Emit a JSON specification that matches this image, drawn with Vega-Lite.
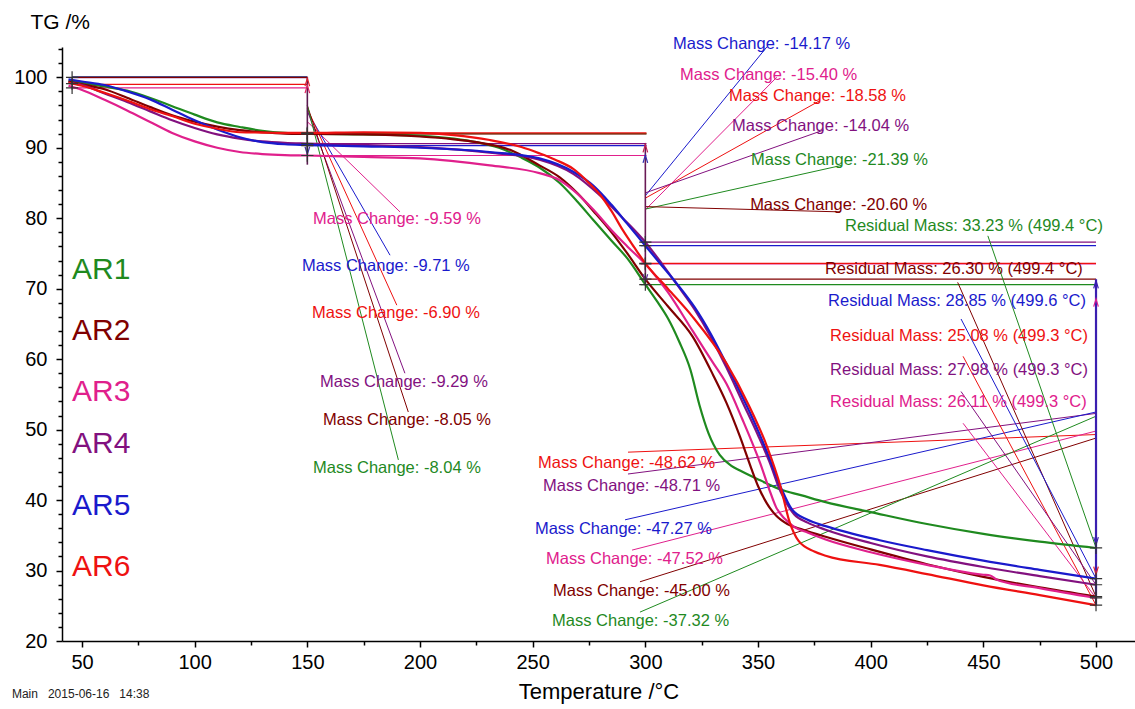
{
  "$schema": "https://vega.github.io/schema/vega-lite/v6.json",
  "width": 1073,
  "height": 594,
  "autosize": "none",
  "padding": {"left": 62, "top": 47, "right": 0, "bottom": 68},
  "background": "white",
  "config": {
    "view": {"stroke": null},
    "font": "Liberation Sans",
    "axis": {"domainColor": "black", "tickColor": "black", "labelColor": "black", "titleColor": "black", "grid": false, "labelFont": "Liberation Sans", "titleFont": "Liberation Sans", "domainWidth": 1.5, "tickWidth": 1.5}
  },
  "datasets": {
    "curves": [
      {"s":"AR1","x":44,"y":99.5},{"s":"AR1","x":50,"y":99.2},{"s":"AR1","x":60,"y":98.7},{"s":"AR1","x":70,"y":98.1},{"s":"AR1","x":80,"y":97.1},{"s":"AR1","x":90,"y":95.9},{"s":"AR1","x":100,"y":94.7},{"s":"AR1","x":110,"y":93.6},{"s":"AR1","x":120,"y":92.95},{"s":"AR1","x":130,"y":92.4},{"s":"AR1","x":140,"y":92.1},{"s":"AR1","x":150,"y":92.0},{"s":"AR1","x":175,"y":91.9},{"s":"AR1","x":200,"y":91.7},{"s":"AR1","x":215,"y":91.3},{"s":"AR1","x":225,"y":90.8},{"s":"AR1","x":235,"y":90.0},{"s":"AR1","x":245,"y":88.6},{"s":"AR1","x":253,"y":87.2},{"s":"AR1","x":262,"y":85.0},{"s":"AR1","x":270,"y":82.3},{"s":"AR1","x":277,"y":79.7},{"s":"AR1","x":285,"y":76.8},{"s":"AR1","x":292,"y":74.3},{"s":"AR1","x":300,"y":70.6},{"s":"AR1","x":305,"y":68.3},{"s":"AR1","x":310,"y":65.8},{"s":"AR1","x":315,"y":62.5},{"s":"AR1","x":320,"y":58.5},{"s":"AR1","x":324,"y":53.5},{"s":"AR1","x":328,"y":49.5},{"s":"AR1","x":333,"y":46.4},{"s":"AR1","x":338,"y":44.9},{"s":"AR1","x":342,"y":44.2},{"s":"AR1","x":351,"y":42.8},{"s":"AR1","x":360,"y":41.5},{"s":"AR1","x":369,"y":40.7},{"s":"AR1","x":380,"y":39.7},{"s":"AR1","x":400,"y":38.3},{"s":"AR1","x":425,"y":36.6},{"s":"AR1","x":450,"y":35.2},{"s":"AR1","x":475,"y":34.1},{"s":"AR1","x":500,"y":33.2},
      {"s":"AR2","x":44,"y":99.4},{"s":"AR2","x":50,"y":99.0},{"s":"AR2","x":60,"y":98.3},{"s":"AR2","x":70,"y":97.1},{"s":"AR2","x":80,"y":95.8},{"s":"AR2","x":90,"y":94.6},{"s":"AR2","x":100,"y":93.7},{"s":"AR2","x":110,"y":93.0},{"s":"AR2","x":120,"y":92.5},{"s":"AR2","x":130,"y":92.2},{"s":"AR2","x":140,"y":92.0},{"s":"AR2","x":150,"y":91.95},{"s":"AR2","x":175,"y":91.9},{"s":"AR2","x":200,"y":91.6},{"s":"AR2","x":215,"y":91.2},{"s":"AR2","x":225,"y":90.8},{"s":"AR2","x":240,"y":89.7},{"s":"AR2","x":253,"y":87.5},{"s":"AR2","x":262,"y":85.8},{"s":"AR2","x":270,"y":83.5},{"s":"AR2","x":277,"y":81.0},{"s":"AR2","x":285,"y":78.0},{"s":"AR2","x":292,"y":75.0},{"s":"AR2","x":300,"y":71.35},{"s":"AR2","x":310,"y":67.5},{"s":"AR2","x":321,"y":63.2},{"s":"AR2","x":330,"y":57.8},{"s":"AR2","x":336,"y":53.8},{"s":"AR2","x":342,"y":49.0},{"s":"AR2","x":347,"y":44.5},{"s":"AR2","x":350,"y":42.0},{"s":"AR2","x":354,"y":39.5},{"s":"AR2","x":358,"y":37.8},{"s":"AR2","x":363,"y":36.6},{"s":"AR2","x":370,"y":35.8},{"s":"AR2","x":380,"y":34.8},{"s":"AR2","x":400,"y":33.0},{"s":"AR2","x":425,"y":30.9},{"s":"AR2","x":450,"y":29.1},{"s":"AR2","x":475,"y":27.6},{"s":"AR2","x":500,"y":26.3},
      {"s":"AR3","x":44,"y":98.8},{"s":"AR3","x":50,"y":98.2},{"s":"AR3","x":60,"y":96.8},{"s":"AR3","x":70,"y":95.3},{"s":"AR3","x":80,"y":93.7},{"s":"AR3","x":90,"y":92.1},{"s":"AR3","x":100,"y":90.9},{"s":"AR3","x":110,"y":90.0},{"s":"AR3","x":120,"y":89.4},{"s":"AR3","x":130,"y":89.1},{"s":"AR3","x":140,"y":88.95},{"s":"AR3","x":150,"y":88.9},{"s":"AR3","x":175,"y":88.7},{"s":"AR3","x":200,"y":88.5},{"s":"AR3","x":231,"y":87.5},{"s":"AR3","x":253,"y":86.4},{"s":"AR3","x":262,"y":85.4},{"s":"AR3","x":268,"y":84.0},{"s":"AR3","x":277,"y":81.2},{"s":"AR3","x":285,"y":78.3},{"s":"AR3","x":292,"y":76.0},{"s":"AR3","x":300,"y":73.5},{"s":"AR3","x":310,"y":69.5},{"s":"AR3","x":321,"y":64.0},{"s":"AR3","x":330,"y":59.5},{"s":"AR3","x":336,"y":56.5},{"s":"AR3","x":343,"y":51.5},{"s":"AR3","x":351,"y":45.2},{"s":"AR3","x":355,"y":41.5},{"s":"AR3","x":358,"y":39.0},{"s":"AR3","x":362,"y":37.3},{"s":"AR3","x":366,"y":36.2},{"s":"AR3","x":372,"y":35.4},{"s":"AR3","x":380,"y":34.4},{"s":"AR3","x":400,"y":32.6},{"s":"AR3","x":425,"y":30.8},{"s":"AR3","x":445,"y":29.6},{"s":"AR3","x":450,"y":29.4},{"s":"AR3","x":453,"y":29.3},{"s":"AR3","x":456,"y":28.7},{"s":"AR3","x":475,"y":27.5},{"s":"AR3","x":500,"y":26.1},
      {"s":"AR4","x":44,"y":99.2},{"s":"AR4","x":50,"y":98.9},{"s":"AR4","x":60,"y":97.7},{"s":"AR4","x":70,"y":96.5},{"s":"AR4","x":80,"y":95.2},{"s":"AR4","x":90,"y":93.9},{"s":"AR4","x":100,"y":92.8},{"s":"AR4","x":110,"y":91.9},{"s":"AR4","x":120,"y":91.3},{"s":"AR4","x":130,"y":90.9},{"s":"AR4","x":140,"y":90.7},{"s":"AR4","x":150,"y":90.6},{"s":"AR4","x":175,"y":90.4},{"s":"AR4","x":200,"y":90.1},{"s":"AR4","x":231,"y":89.3},{"s":"AR4","x":253,"y":88.3},{"s":"AR4","x":268,"y":86.3},{"s":"AR4","x":280,"y":83.2},{"s":"AR4","x":290,"y":80.0},{"s":"AR4","x":300,"y":76.6},{"s":"AR4","x":307,"y":73.7},{"s":"AR4","x":314,"y":70.6},{"s":"AR4","x":322,"y":67.0},{"s":"AR4","x":329,"y":63.2},{"s":"AR4","x":336,"y":58.8},{"s":"AR4","x":343,"y":54.0},{"s":"AR4","x":350,"y":49.2},{"s":"AR4","x":355,"y":45.5},{"s":"AR4","x":360,"y":41.2},{"s":"AR4","x":366,"y":38.0},{"s":"AR4","x":372,"y":36.8},{"s":"AR4","x":380,"y":35.8},{"s":"AR4","x":400,"y":33.9},{"s":"AR4","x":425,"y":32.0},{"s":"AR4","x":450,"y":30.5},{"s":"AR4","x":475,"y":29.2},{"s":"AR4","x":500,"y":27.98},
      {"s":"AR5","x":44,"y":99.7},{"s":"AR5","x":50,"y":99.4},{"s":"AR5","x":60,"y":98.9},{"s":"AR5","x":70,"y":98.0},{"s":"AR5","x":80,"y":96.9},{"s":"AR5","x":90,"y":95.4},{"s":"AR5","x":100,"y":93.9},{"s":"AR5","x":110,"y":92.6},{"s":"AR5","x":120,"y":91.5},{"s":"AR5","x":130,"y":90.8},{"s":"AR5","x":140,"y":90.5},{"s":"AR5","x":150,"y":90.4},{"s":"AR5","x":175,"y":90.2},{"s":"AR5","x":200,"y":90.0},{"s":"AR5","x":231,"y":89.4},{"s":"AR5","x":253,"y":88.5},{"s":"AR5","x":268,"y":86.6},{"s":"AR5","x":277,"y":84.6},{"s":"AR5","x":285,"y":81.9},{"s":"AR5","x":292,"y":79.2},{"s":"AR5","x":300,"y":76.1},{"s":"AR5","x":307,"y":73.4},{"s":"AR5","x":314,"y":70.7},{"s":"AR5","x":322,"y":67.3},{"s":"AR5","x":329,"y":63.6},{"s":"AR5","x":336,"y":59.3},{"s":"AR5","x":343,"y":54.7},{"s":"AR5","x":349,"y":50.6},{"s":"AR5","x":354,"y":46.8},{"s":"AR5","x":360,"y":41.9},{"s":"AR5","x":365,"y":38.7},{"s":"AR5","x":372,"y":37.2},{"s":"AR5","x":380,"y":36.3},{"s":"AR5","x":404,"y":34.3},{"s":"AR5","x":425,"y":32.9},{"s":"AR5","x":450,"y":31.4},{"s":"AR5","x":475,"y":30.1},{"s":"AR5","x":500,"y":28.85},
      {"s":"AR6","x":44,"y":99.2},{"s":"AR6","x":50,"y":98.8},{"s":"AR6","x":60,"y":97.8},{"s":"AR6","x":70,"y":96.7},{"s":"AR6","x":80,"y":95.5},{"s":"AR6","x":90,"y":94.5},{"s":"AR6","x":100,"y":93.4},{"s":"AR6","x":110,"y":92.7},{"s":"AR6","x":120,"y":92.2},{"s":"AR6","x":130,"y":92.15},{"s":"AR6","x":140,"y":92.1},{"s":"AR6","x":150,"y":92.1},{"s":"AR6","x":175,"y":92.2},{"s":"AR6","x":200,"y":92.1},{"s":"AR6","x":215,"y":91.8},{"s":"AR6","x":231,"y":91.1},{"s":"AR6","x":245,"y":90.1},{"s":"AR6","x":253,"y":89.2},{"s":"AR6","x":260,"y":88.3},{"s":"AR6","x":268,"y":87.0},{"s":"AR6","x":275,"y":85.0},{"s":"AR6","x":280,"y":83.3},{"s":"AR6","x":285,"y":81.0},{"s":"AR6","x":290,"y":78.3},{"s":"AR6","x":295,"y":75.9},{"s":"AR6","x":300,"y":73.6},{"s":"AR6","x":310,"y":70.0},{"s":"AR6","x":321,"y":66.0},{"s":"AR6","x":336,"y":59.4},{"s":"AR6","x":346,"y":53.4},{"s":"AR6","x":354,"y":47.6},{"s":"AR6","x":360,"y":41.9},{"s":"AR6","x":364,"y":36.9},{"s":"AR6","x":368,"y":34.2},{"s":"AR6","x":375,"y":32.7},{"s":"AR6","x":380,"y":32.1},{"s":"AR6","x":404,"y":30.8},{"s":"AR6","x":425,"y":29.5},{"s":"AR6","x":450,"y":27.9},{"s":"AR6","x":475,"y":26.5},{"s":"AR6","x":500,"y":25.08}
    ],
    "hlines": [
      {"s":"AR5","x":45.6,"x2":150,"y":100.05},{"s":"AR1","x":45.6,"x2":150,"y":100.0},{"s":"AR4","x":45.6,"x2":150,"y":99.95},{"s":"AR2","x":45.6,"x2":150,"y":100.0},{"s":"AR6","x":45.6,"x2":150,"y":99.0},{"s":"AR3","x":45.6,"x2":150,"y":98.5},
      {"s":"AR1","x":150,"x2":300.5,"y":92.0},{"s":"AR2","x":150,"x2":300.5,"y":91.95},{"s":"AR3","x":150,"x2":300.5,"y":88.9},{"s":"AR4","x":150,"x2":300.5,"y":90.6},{"s":"AR5","x":150,"x2":300.5,"y":90.3},{"s":"AR6","x":150,"x2":300.5,"y":92.1},
      {"s":"AR1","x":298,"x2":500,"y":70.57},{"s":"AR2","x":298,"x2":500,"y":71.35},{"s":"AR3","x":298,"x2":500,"y":73.5},{"s":"AR4","x":298,"x2":500,"y":76.6},{"s":"AR5","x":298,"x2":500,"y":76.1},{"s":"AR6","x":298,"x2":500,"y":73.6}
    ],
    "leaders": [
      {"s":"AR3","x":150,"y":93.7,"x2":191.1,"y2":80.9},{"s":"AR5","x":150,"y":95.15,"x2":186.7,"y2":74.75},{"s":"AR6","x":150,"y":95.55,"x2":189.7,"y2":67.66},{"s":"AR4","x":150,"y":95.25,"x2":193.3,"y2":58.0},{"s":"AR2","x":150,"y":95.98,"x2":194.8,"y2":52.5},{"s":"AR1","x":150,"y":96.0,"x2":190.4,"y2":45.7},
      {"s":"AR5","x":300,"y":83.2,"x2":353.9,"y2":104.3},{"s":"AR3","x":300,"y":81.2,"x2":358.3,"y2":100.0},{"s":"AR6","x":300,"y":82.85,"x2":377.5,"y2":96.7},{"s":"AR4","x":300,"y":83.6,"x2":379.0,"y2":92.5},{"s":"AR1","x":300,"y":81.3,"x2":387.1,"y2":87.5},{"s":"AR2","x":300,"y":81.65,"x2":386.4,"y2":80.9},
      {"s":"AR6","x":292.3,"y":46.8,"x2":500,"y2":49.3},{"s":"AR4","x":292.3,"y":43.7,"x2":500,"y2":52.3},{"s":"AR5","x":291.0,"y":37.2,"x2":500,"y2":52.5},{"s":"AR3","x":294.1,"y":32.9,"x2":500,"y2":49.8},{"s":"AR2","x":297.6,"y":28.4,"x2":500,"y2":48.8},{"s":"AR1","x":297.6,"y":24.1,"x2":500,"y2":51.9},
      {"s":"AR1","x":452,"y":77.5,"x2":500,"y2":33.23},{"s":"AR2","x":438.6,"y":70.9,"x2":500,"y2":26.3},{"s":"AR5","x":440.1,"y":65.7,"x2":500,"y2":28.85},{"s":"AR6","x":441.0,"y":60.4,"x2":500,"y2":25.08},{"s":"AR4","x":440.1,"y":55.4,"x2":500,"y2":27.98},{"s":"AR3","x":441.0,"y":50.9,"x2":500,"y2":26.11}
    ],
    "vlines": [
      {"x":150,"y":100.0,"y2":87.6,"c":"#5a1a50","w":1.6},
      {"x":300,"y":90.6,"y2":70.57,"c":"#6a1a55","w":1.6},
      {"x":500,"y":71.35,"y2":25.08,"c":"#3a1fb0","w":2.2}
    ],
    "arrows": [
      {"x":150,"y":99.3,"dir":"up","c":"#e02030"},{"x":150,"y":98.3,"dir":"up","c":"#e02060"},{"x":150,"y":89.6,"dir":"down","c":"#4030a0"},
      {"x":300,"y":89.9,"dir":"up","c":"#c02050"},{"x":300,"y":88.4,"dir":"up","c":"#3030b0"},{"x":300,"y":71.5,"dir":"down","c":"#6030a0"},
      {"x":500,"y":70.6,"dir":"up","c":"#3a1fb0"},{"x":500,"y":68.0,"dir":"up","c":"#e02090"},{"x":500,"y":34.2,"dir":"down","c":"#3a1fb0"},{"x":500,"y":30.0,"dir":"down","c":"#e02030"}
    ],
    "markers": [
      {"x":45.6,"y":100.0},{"x":45.6,"y":99.1},{"x":45.6,"y":98.5},
      {"x":150,"y":92.0},{"x":150,"y":91.95},{"x":150,"y":88.9},{"x":150,"y":90.6},{"x":150,"y":90.3},{"x":150,"y":92.1},
      {"x":300,"y":70.57},{"x":300,"y":71.35},{"x":300,"y":73.5},{"x":300,"y":76.6},{"x":300,"y":76.1},{"x":300,"y":73.6},
      {"x":500,"y":33.23},{"x":500,"y":26.3},{"x":500,"y":26.11},{"x":500,"y":27.98},{"x":500,"y":28.85},{"x":500,"y":25.08}
    ],
    "texts": [
      {"s":"AR5","x":312.3,"y":104.68,"label":"Mass Change: -14.17 %"},
      {"s":"AR3","x":315.4,"y":100.28,"label":"Mass Change: -15.40 %"},
      {"s":"AR6","x":337.1,"y":97.3,"label":"Mass Change: -18.58 %"},
      {"s":"AR4","x":338.5,"y":93.05,"label":"Mass Change: -14.04 %"},
      {"s":"AR1","x":346.9,"y":88.2,"label":"Mass Change: -21.39 %"},
      {"s":"AR2","x":346.5,"y":81.84,"label":"Mass Change: -20.60 %"},
      {"s":"AR1","x":388.6,"y":78.87,"label":"Residual Mass: 33.23 % (499.4 °C)"},
      {"s":"AR2","x":379.7,"y":72.77,"label":"Residual Mass: 26.30 % (499.4 °C)"},
      {"s":"AR5","x":381.1,"y":68.23,"label":"Residual Mass: 28.85 % (499.6 °C)"},
      {"s":"AR6","x":382.0,"y":63.26,"label":"Residual Mass: 25.08 % (499.3 °C)"},
      {"s":"AR4","x":382.0,"y":58.44,"label":"Residual Mass: 27.98 % (499.3 °C)"},
      {"s":"AR3","x":382.0,"y":53.9,"label":"Residual Mass: 26.11 % (499.3 °C)"},
      {"s":"AR3","x":152.5,"y":79.86,"label":"Mass Change: -9.59 %"},
      {"s":"AR5","x":147.6,"y":73.19,"label":"Mass Change: -9.71 %"},
      {"s":"AR6","x":152.1,"y":66.52,"label":"Mass Change: -6.90 %"},
      {"s":"AR4","x":155.6,"y":56.74,"label":"Mass Change: -9.29 %"},
      {"s":"AR2","x":157.0,"y":51.35,"label":"Mass Change: -8.05 %"},
      {"s":"AR1","x":152.5,"y":44.54,"label":"Mass Change: -8.04 %"},
      {"s":"AR6","x":252.4,"y":45.25,"label":"Mass Change: -48.62 %"},
      {"s":"AR4","x":254.6,"y":41.99,"label":"Mass Change: -48.71 %"},
      {"s":"AR5","x":251.0,"y":35.89,"label":"Mass Change: -47.27 %"},
      {"s":"AR3","x":255.9,"y":31.63,"label":"Mass Change: -47.52 %"},
      {"s":"AR2","x":259.0,"y":27.09,"label":"Mass Change: -45.00 %"},
      {"s":"AR1","x":258.6,"y":22.84,"label":"Mass Change: -37.32 %"}
    ],
    "arlabels": [
      {"s":"AR1","x":45.6,"y":72.62,"label":"AR1"},
      {"s":"AR2","x":45.6,"y":63.97,"label":"AR2"},
      {"s":"AR3","x":45.6,"y":55.32,"label":"AR3"},
      {"s":"AR4","x":45.6,"y":47.94,"label":"AR4"},
      {"s":"AR5","x":45.6,"y":39.15,"label":"AR5"},
      {"s":"AR6","x":45.6,"y":30.5,"label":"AR6"}
    ],
    "footer": [
      {"x":18.9,"y":12.5,"label":"Main\u00a0\u00a0\u00a02015-06-16\u00a0\u00a0\u00a014:38"}
    ]
  },
  "encoding": {
    "x": {
      "field": "x", "type": "quantitative",
      "scale": {"domain": [41.12, 517.3], "nice": false, "zero": false},
      "axis": {
        "values": [50,75,100,125,150,175,200,225,250,275,300,325,350,375,400,425,450,475,500],
        "labelExpr": "datum.value % 50 === 0 ? datum.label : ''",
        "tickSize": {"condition": {"test": "datum.value % 50 === 0", "value": 6}, "value": 4},
        "labelFontSize": 20, "labelPadding": 5, "labelFlush": false, "labelOverlap": false,
        "title": "Temperature /°C", "titleFontSize": 22, "titleFontWeight": "normal", "titlePadding": 9
      }
    },
    "y": {
      "field": "y", "type": "quantitative",
      "scale": {"domain": [20, 104.3], "nice": false, "zero": false},
      "axis": {
        "values": [20,22,24,26,28,30,32,34,36,38,40,42,44,46,48,50,52,54,56,58,60,62,64,66,68,70,72,74,76,78,80,82,84,86,88,90,92,94,96,98,100,102,104],
        "labelExpr": "datum.value % 10 === 0 ? datum.label : ''",
        "tickSize": {"condition": {"test": "datum.value % 10 === 0", "value": 6}, "value": 4},
        "labelFontSize": 20, "labelPadding": 9, "labelOverlap": false,
        "title": "TG /%", "titleAngle": 0, "titleAlign": "left", "titleBaseline": "alphabetic",
        "titleX": -32, "titleY": -19, "titleFontSize": 21, "titleFontWeight": "normal"
      }
    }
  },
  "layer": [
    {
      "data": {"name": "hlines"},
      "mark": {"type": "rule", "strokeWidth": 1.2},
      "encoding": {
        "x2": {"field": "x2"},
        "color": {"field": "s", "type": "nominal", "scale": {"domain": ["AR1","AR2","AR3","AR4","AR5","AR6"], "range": ["#1f8a1f","#800000","#e0208c","#82117f","#1a1acc","#ee1111"]}, "legend": null}
      }
    },
    {
      "data": {"name": "leaders"},
      "mark": {"type": "rule", "strokeWidth": 1},
      "encoding": {
        "x2": {"field": "x2"},
        "y2": {"field": "y2"},
        "color": {"field": "s", "type": "nominal", "legend": null}
      }
    },
    {
      "data": {"name": "vlines"},
      "mark": {"type": "rule"},
      "encoding": {
        "y2": {"field": "y2"},
        "stroke": {"field": "c", "type": "nominal", "scale": null},
        "strokeWidth": {"field": "w", "type": "quantitative", "scale": null}
      }
    },
    {
      "data": {"name": "curves"},
      "mark": {"type": "line", "strokeWidth": 2.2, "interpolate": "monotone"},
      "encoding": {
        "color": {"field": "s", "type": "nominal", "legend": null},
        "detail": {"field": "s"}
      }
    },
    {
      "data": {"name": "arrows"},
      "mark": {"type": "point", "size": 60, "filled": false, "strokeWidth": 1.2, "opacity": 1},
      "encoding": {
        "shape": {"field": "dir", "type": "nominal", "scale": {"domain": ["up","down"], "range": ["M-0.6,1L0,-1L0.6,1", "M-0.6,-1L0,1L0.6,-1"]}, "legend": null},
        "stroke": {"field": "c", "type": "nominal", "scale": null}
      }
    },
    {
      "data": {"name": "markers"},
      "mark": {"type": "point", "shape": "M-1,0L1,0M0,-1L0,1", "size": 150, "filled": false, "strokeWidth": 1.2, "color": "#333333", "opacity": 1},
      "encoding": {}
    },
    {
      "data": {"name": "texts"},
      "mark": {"type": "text", "align": "left", "baseline": "middle", "fontSize": 16.5, "font": "Liberation Sans"},
      "encoding": {
        "text": {"field": "label"},
        "color": {"field": "s", "type": "nominal", "legend": null}
      }
    },
    {
      "data": {"name": "arlabels"},
      "mark": {"type": "text", "align": "left", "baseline": "middle", "fontSize": 30, "font": "Liberation Sans"},
      "encoding": {
        "text": {"field": "label"},
        "color": {"field": "s", "type": "nominal", "legend": null}
      }
    },
    {
      "data": {"name": "footer"},
      "mark": {"type": "text", "align": "left", "baseline": "middle", "fontSize": 12, "font": "Liberation Sans", "color": "#222222"},
      "encoding": {"text": {"field": "label"}}
    }
  ]
}
